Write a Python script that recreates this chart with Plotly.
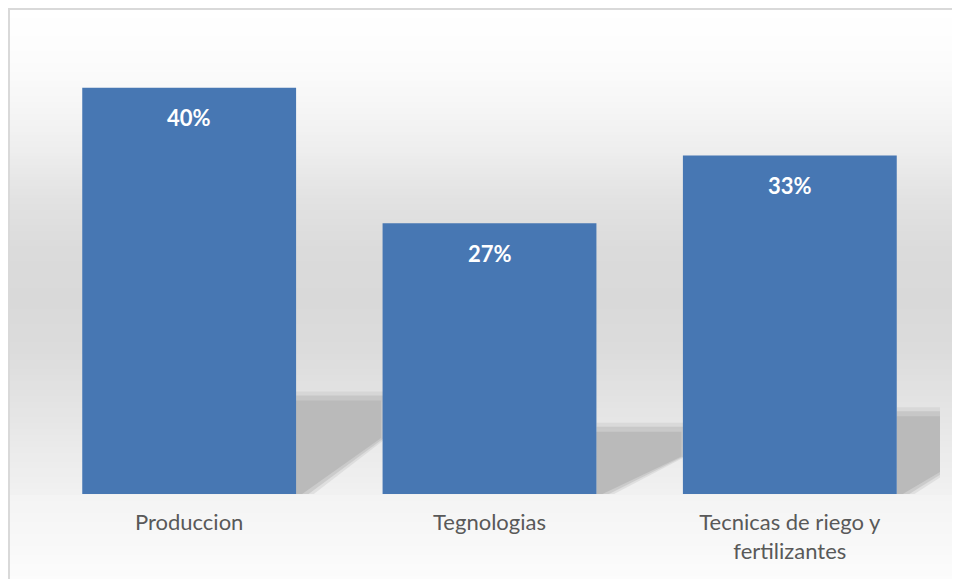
import plotly.graph_objects as go
import numpy as np

# ---- data ----
categories = ["Produccion", "Tegnologias", "Tecnicas de riego y<br>fertilizantes"]
values = [40.0, 26.67, 33.33]
value_labels = ["40%", "27%", "33%"]

# ---- layout constants ----
W, H = 960, 579
OFF = 8  # page offset of the figure (body margin)
L, R, T, B = 31, 28, 29, 93
Y_MAX = 45
BAR_W = 0.712
PX_X = (W - L - R) / 3.0
PX_Y = (H - T - B) / Y_MAX


def pap_y(p):  # page pixel y -> paper
    return (H - B - (p - OFF)) / (H - T - B)


def pap_x(p):  # page pixel x -> paper
    return ((p - OFF) - L) / (W - L - R)


shapes = []

# background gradient (chart area fill)
stops_p = [9, 60, 100, 150, 200, 250, 300, 350, 400, 450, 494, 495, 540, 590]
stops_g = [255, 252, 247, 238, 226, 219, 217, 220, 227, 235, 241, 244, 248, 253]
step = 3
for p in range(9, 590, step):
    g = int(round(np.interp(p + step / 2, stops_p, stops_g)))
    shapes.append(dict(type="rect", xref="paper", yref="paper", layer="below",
                       x0=pap_x(8), x1=pap_x(975), y0=pap_y(p + step), y1=pap_y(p),
                       fillcolor=f"rgb({g},{g},{g})", line=dict(width=0)))


# perspective shadows to the right of each bar
def shadow_path(i, v, grow):
    xr = i + BAR_W / 2
    hs = 0.23 * v * PX_Y
    w = 85
    pts = [(0, 0), (0, hs + grow), (w + grow, hs + grow),
           (w + grow, 0.6 * hs + grow * 0.3), (6 + 1.3 * grow, 0)]
    d = ""
    for k, (dx, dy) in enumerate(pts):
        d += ("M" if k == 0 else "L") + f"{xr + dx / PX_X},{dy / PX_Y} "
    return d + "Z"


for i, v in enumerate(values):
    for grow, col in [(9, "rgba(185,185,185,0.3)"), (5, "rgba(180,180,180,0.45)"), (0, "#bababa")]:
        shapes.append(dict(type="path", xref="x", yref="y", layer="below",
                           path=shadow_path(i, v, grow), fillcolor=col, line=dict(width=0)))

# outer chart border
shapes.append(dict(type="rect", xref="paper", yref="paper", layer="above",
                   x0=pap_x(9), x1=pap_x(1000), y0=pap_y(620), y1=pap_y(9),
                   fillcolor="rgba(0,0,0,0)", line=dict(color="#d9d9d9", width=2)))

fig = go.Figure()
fig.add_trace(go.Bar(x=list(range(len(categories))), y=values, width=BAR_W,
                     marker=dict(color="#4777b3", line=dict(width=0)),
                     hoverinfo="skip"))

annotations = []
for i, (v, lab) in enumerate(zip(values, value_labels)):
    annotations.append(dict(x=i, y=v, xref="x", yref="y", text=lab, showarrow=False,
                            yshift=-30, yanchor="middle",
                            font=dict(family="Lato", size=22, color="white", weight="bold")))

fig.update_layout(
    width=W, height=H,
    margin=dict(l=L, r=R, t=T, b=B),
    paper_bgcolor="white",
    plot_bgcolor="rgba(0,0,0,0)",
    showlegend=False,
    shapes=shapes,
    annotations=annotations,
    xaxis=dict(range=[-0.5, 2.5], tickmode="array", tickvals=list(range(len(categories))),
               ticktext=categories, showgrid=False, zeroline=False, showline=False,
               ticks="", ticklabelstandoff=13,
               tickfont=dict(family="Lato", size=22, color="#595959")),
    yaxis=dict(range=[0, Y_MAX], visible=False, showgrid=False, zeroline=False),
)

fig.write_html("out.html")
